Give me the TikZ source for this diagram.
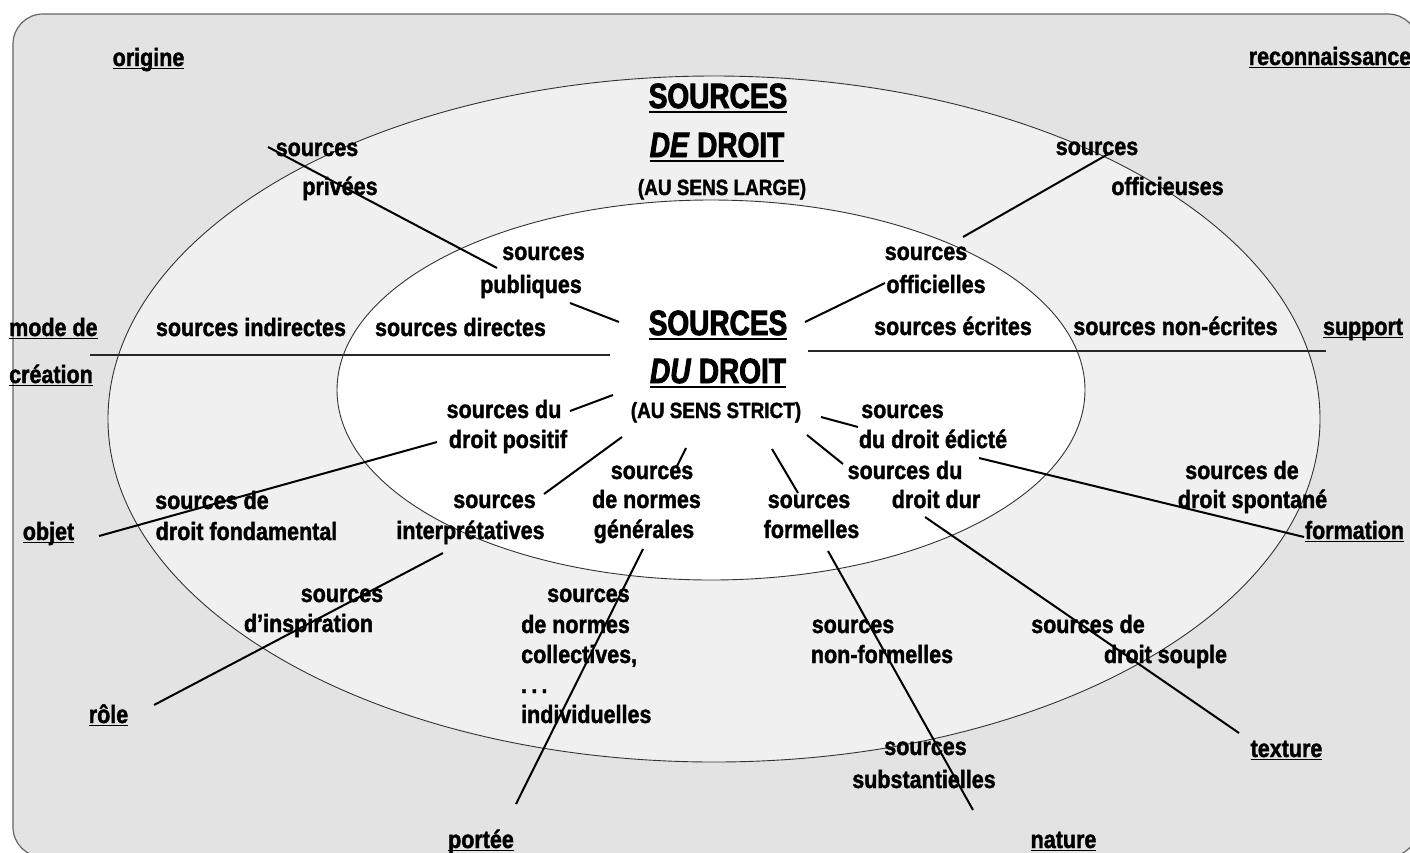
\documentclass[tikz,border=0pt]{standalone}
\usepackage{fontspec}
\setmainfont{Liberation Sans}[FakeStretch=0.86, BoldFeatures={FakeBold=1.5}, BoldItalicFeatures={FakeBold=1.5}]
\newfontfamily\titlefont{Liberation Sans}[FakeStretch=0.8, BoldFeatures={FakeBold=2.5}, BoldItalicFeatures={FakeBold=2.5}]
\newcommand{\myul}[1]{\setbox0=\hbox{#1}\rlap{\rule[-3.2pt]{\wd0}{1.3pt}}\box0}
\newcommand{\myulT}[1]{\setbox0=\hbox{#1}\rlap{\rule[-4.5pt]{\wd0}{1.6pt}}\box0}
\definecolor{outerbg}{HTML}{E3E3E3}
\definecolor{ringbg}{HTML}{F0F0F0}
\tikzset{
  lab/.style={inner sep=0pt, anchor=base, font=\fontsize{25}{25}\selectfont\bfseries},
  labw/.style={lab, anchor=base west},
  ttl/.style={inner sep=0pt, anchor=base, font=\titlefont\fontsize{35}{35}\selectfont\bfseries},
  sub/.style={inner sep=0pt, anchor=base, font=\fontsize{22}{22}\selectfont\bfseries},
  conn/.style={line width=2pt, black},
  hline/.style={line width=1.2pt, black!85},
  ell/.style={draw=black!80, line width=0.9pt}
}
\begin{document}
\begin{tikzpicture}[x=1pt,y=-1pt]
\useasboundingbox (0,0) rectangle (1410,852);
\clip (0,0) rectangle (1410,852);
\fill[white] (0,0) rectangle (1410,852);
% frame and ellipses
\draw[fill=outerbg, draw=black!60, line width=1.2pt, rounded corners=30pt] (13,14) rectangle (1418,857);
\draw[ell, fill=ringbg] (714,419) ellipse [x radius=606pt, y radius=343pt];
\draw[ell, fill=white] (711,390) ellipse [x radius=374pt, y radius=190pt];
% horizontal divider lines
\coordinate (hl1) at (90,355);
\coordinate (hl2) at (610,355);
\coordinate (hr1) at (808,351);
\coordinate (hr2) at (1326,351);
\draw[hline] (hl1) -- (hl2);
\draw[hline] (hr1) -- (hr2);
% connector end points
\coordinate (privA) at (268,147);
\coordinate (pubA) at (497,268);
\coordinate (pubB) at (570,303);
\coordinate (sdA) at (619,322);
\coordinate (sdB) at (805,322);
\coordinate (offlA) at (885,283);
\coordinate (offlB) at (963,237);
\coordinate (offcA) at (1110,153);
\coordinate (posA) at (570,411);
\coordinate (sdC) at (613,395);
\coordinate (intA) at (544,494);
\coordinate (sdD) at (622,437);
\coordinate (genA) at (677,466);
\coordinate (sdE) at (686,448);
\coordinate (sdF) at (772,449);
\coordinate (forA) at (798,493);
\coordinate (sdG) at (807,435);
\coordinate (durA) at (843,464);
\coordinate (sdH) at (821,417);
\coordinate (ediA) at (858,427);
\coordinate (posB) at (437,442);
\coordinate (objA) at (99,536);
\coordinate (intB) at (443,553);
\coordinate (roleA) at (154,705);
\coordinate (genB) at (643,549);
\coordinate (portA) at (516,804);
\coordinate (forB) at (828,551);
\coordinate (natA) at (973,810);
\coordinate (durB) at (925,517);
\coordinate (texA) at (1239,733);
\coordinate (ediB) at (979,458);
\coordinate (formA) at (1304,537);
% connectors
\draw[conn] (privA) -- (pubA);
\draw[conn] (pubB) -- (sdA);
\draw[conn] (sdB) -- (offlA);
\draw[conn] (offlB) -- (offcA);
\draw[conn] (posA) -- (sdC);
\draw[conn] (intA) -- (sdD);
\draw[conn] (genA) -- (sdE);
\draw[conn] (sdF) -- (forA);
\draw[conn] (sdG) -- (durA);
\draw[conn] (sdH) -- (ediA);
\draw[conn] (posB) -- (objA);
\draw[conn] (intB) -- (roleA);
\draw[conn] (genB) -- (portA);
\draw[conn] (forB) -- (natA);
\draw[conn] (durB) -- (texA);
\draw[conn] (ediB) -- (formA);
% titles
\node[ttl] (t1a) at (718,108) {\myulT{SOURCES}};
\node[ttl] (t1b) at (717,157) {\myulT{\textit{DE} DROIT}};
\node[sub] (t1c) at (722,195) {(AU SENS LARGE)};
\node[ttl] (t2a) at (718,335) {\myulT{SOURCES}};
\node[ttl] (t2b) at (718,383) {\myulT{\textit{DU} DROIT}};
\node[sub] (t2c) at (716,418) {(AU SENS STRICT)};
% criteria (underlined)
\node[lab] (k-orig) at (148.5,66) {\myul{origine}};
\node[lab] (k-reco) at (1330,65) {\myul{reconnaissance}};
\node[labw] (k-mode) at (9,336) {\myul{mode de}};
\node[labw] (k-crea) at (9,383) {\myul{création}};
\node[lab] (k-supp) at (1363,335) {\myul{support}};
\node[lab] (k-obj) at (48.5,540) {\myul{objet}};
\node[lab] (k-form) at (1354.5,539) {\myul{formation}};
\node[lab] (k-role) at (108.5,723) {\myul{rôle}};
\node[lab] (k-text) at (1286.5,757) {\myul{texture}};
\node[lab] (k-port) at (481,848) {\myul{portée}};
\node[lab] (k-nat) at (1063.5,848) {\myul{nature}};
% middle ring labels
\node[lab] (priv1) at (317,156) {sources};
\node[lab] (priv2) at (340,195) {privées};
\node[lab] (offc1) at (1097,155) {sources};
\node[lab] (offc2) at (1167.5,195) {officieuses};
\node[lab] (indi) at (251,336) {sources indirectes};
\node[lab] (nonecr) at (1175.5,335) {sources non-écrites};
\node[lab] (fond1) at (212,509) {sources de};
\node[lab] (fond2) at (246.5,540) {droit fondamental};
\node[lab] (spon1) at (1242,479) {sources de};
\node[lab] (spon2) at (1252.5,508) {droit spontané};
\node[lab] (insp1) at (342,602) {sources};
\node[lab] (insp2) at (308.5,632) {d’inspiration};
\node[labw] (coll1) at (547,602) {sources};
\node[labw] (coll2) at (521,633) {de normes};
\node[labw] (coll3) at (521,663) {collectives,};
\node[labw] (coll4) at (521,693) {.\,.\,.};
\node[labw] (coll5) at (521,723) {individuelles};
\node[lab] (nonf1) at (853,633) {sources};
\node[lab] (nonf2) at (882,663) {non-formelles};
\node[lab] (subs1) at (925.5,755) {sources};
\node[lab] (subs2) at (924,788) {substantielles};
\node[lab] (soup1) at (1088,633) {sources de};
\node[lab] (soup2) at (1165.5,663) {droit souple};
% inner ellipse labels
\node[lab] (pub1) at (543.5,260) {sources};
\node[lab] (pub2) at (531,293) {publiques};
\node[lab] (offl1) at (926,260) {sources};
\node[lab] (offl2) at (936,293) {officielles};
\node[lab] (dire) at (460.5,336) {sources directes};
\node[lab] (ecri) at (953,335) {sources écrites};
\node[lab] (pos1) at (504,418) {sources du};
\node[lab] (pos2) at (508,448) {droit positif};
\node[lab] (int1) at (494.5,508) {sources};
\node[lab] (int2) at (470.5,539) {interprétatives};
\node[lab] (gen1) at (652,479) {sources};
\node[lab] (gen2) at (646.5,508) {de normes};
\node[lab] (gen3) at (644,538) {générales};
\node[lab] (for1) at (809,508) {sources};
\node[lab] (for2) at (811.5,538) {formelles};
\node[lab] (edi1) at (902.5,418) {sources};
\node[lab] (edi2) at (933,448) {du droit édicté};
\node[lab] (dur1) at (905,479) {sources du};
\node[lab] (dur2) at (936,508) {droit dur};
\end{tikzpicture}
\end{document}
